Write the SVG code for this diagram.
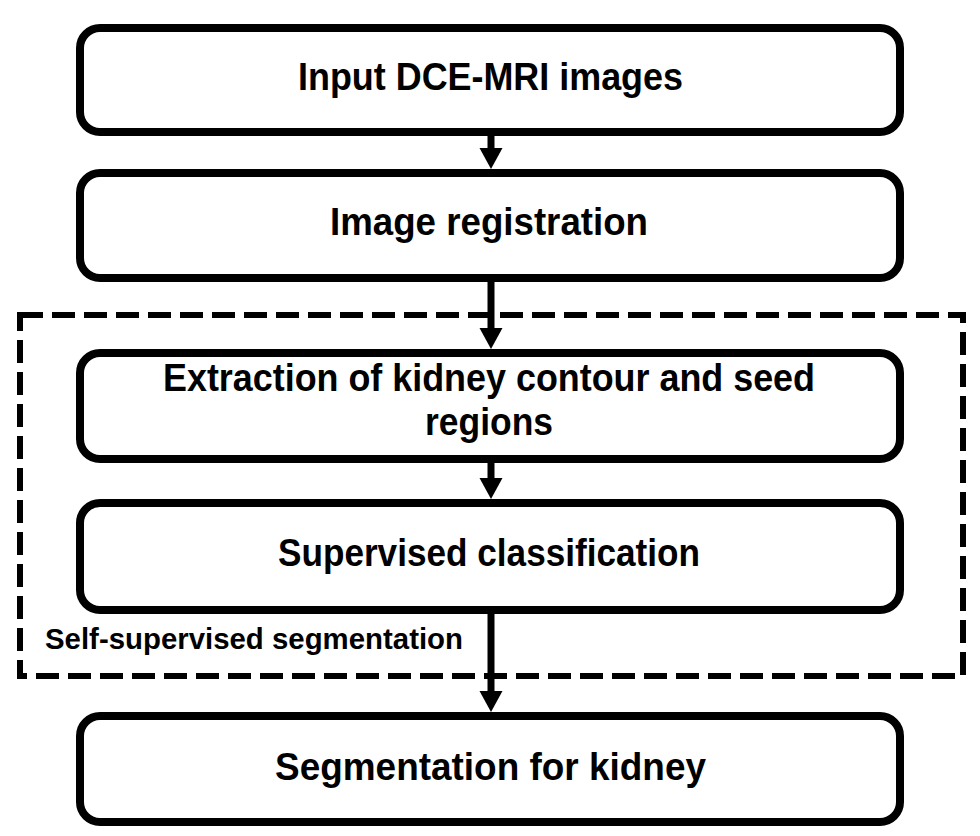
<svg xmlns="http://www.w3.org/2000/svg" width="980" height="836" viewBox="0 0 980 836">
<defs>
<style>
.box{fill:#fff;stroke:#000;stroke-width:8}
.t{font-family:"Liberation Sans",Arial,sans-serif;font-weight:700;font-size:38px;fill:#000;text-anchor:middle}
.lbl{font-family:"Liberation Sans",Arial,sans-serif;font-weight:700;font-size:29px;fill:#000}
.con{stroke:#000;stroke-width:7;fill:none;marker-end:url(#ah)}
</style>
<marker id="ah" markerUnits="userSpaceOnUse" markerWidth="24" markerHeight="24" refX="9" refY="11.5" orient="auto">
<path d="M0,0 L21,11.5 L0,23 z" fill="#000"/>
</marker>
</defs>
<rect width="980" height="836" fill="#fff"/>
<g id="group-self-supervised">
<rect x="20" y="315" width="943" height="361" fill="none" stroke="#000" stroke-width="6" stroke-dasharray="23 9"/>
<text class="lbl" x="45" y="649" textLength="418" lengthAdjust="spacingAndGlyphs">Self-supervised segmentation</text>
</g>
<g id="node-input">
<rect class="box" x="80" y="28" width="820" height="104" rx="20"/>
<text class="t" x="490.5" y="90" textLength="385" lengthAdjust="spacingAndGlyphs">Input DCE-MRI images</text>
</g>
<g id="node-registration">
<rect class="box" x="80" y="173" width="820" height="105" rx="20"/>
<text class="t" x="489" y="235" textLength="318" lengthAdjust="spacingAndGlyphs">Image registration</text>
</g>
<g id="node-extraction">
<rect class="box" x="80" y="353" width="820" height="106" rx="20"/>
<text class="t" x="489" y="391" textLength="652" lengthAdjust="spacingAndGlyphs">Extraction of kidney contour and seed</text>
<text class="t" x="489" y="435" textLength="128" lengthAdjust="spacingAndGlyphs">regions</text>
</g>
<g id="node-classification">
<rect class="box" x="80" y="503" width="820" height="107" rx="20"/>
<text class="t" x="489" y="566" textLength="422" lengthAdjust="spacingAndGlyphs">Supervised classification</text>
</g>
<g id="node-segmentation">
<rect class="box" x="80" y="716" width="820" height="106" rx="20"/>
<text class="t" x="490.5" y="780" textLength="431" lengthAdjust="spacingAndGlyphs">Segmentation for kidney</text>
</g>
<g id="connectors">
<path class="con" d="M491,136 V157"/>
<path class="con" d="M491,282 V337"/>
<path class="con" d="M491,463 V487"/>
<path class="con" d="M491,614 V700"/>
</g>
</svg>
